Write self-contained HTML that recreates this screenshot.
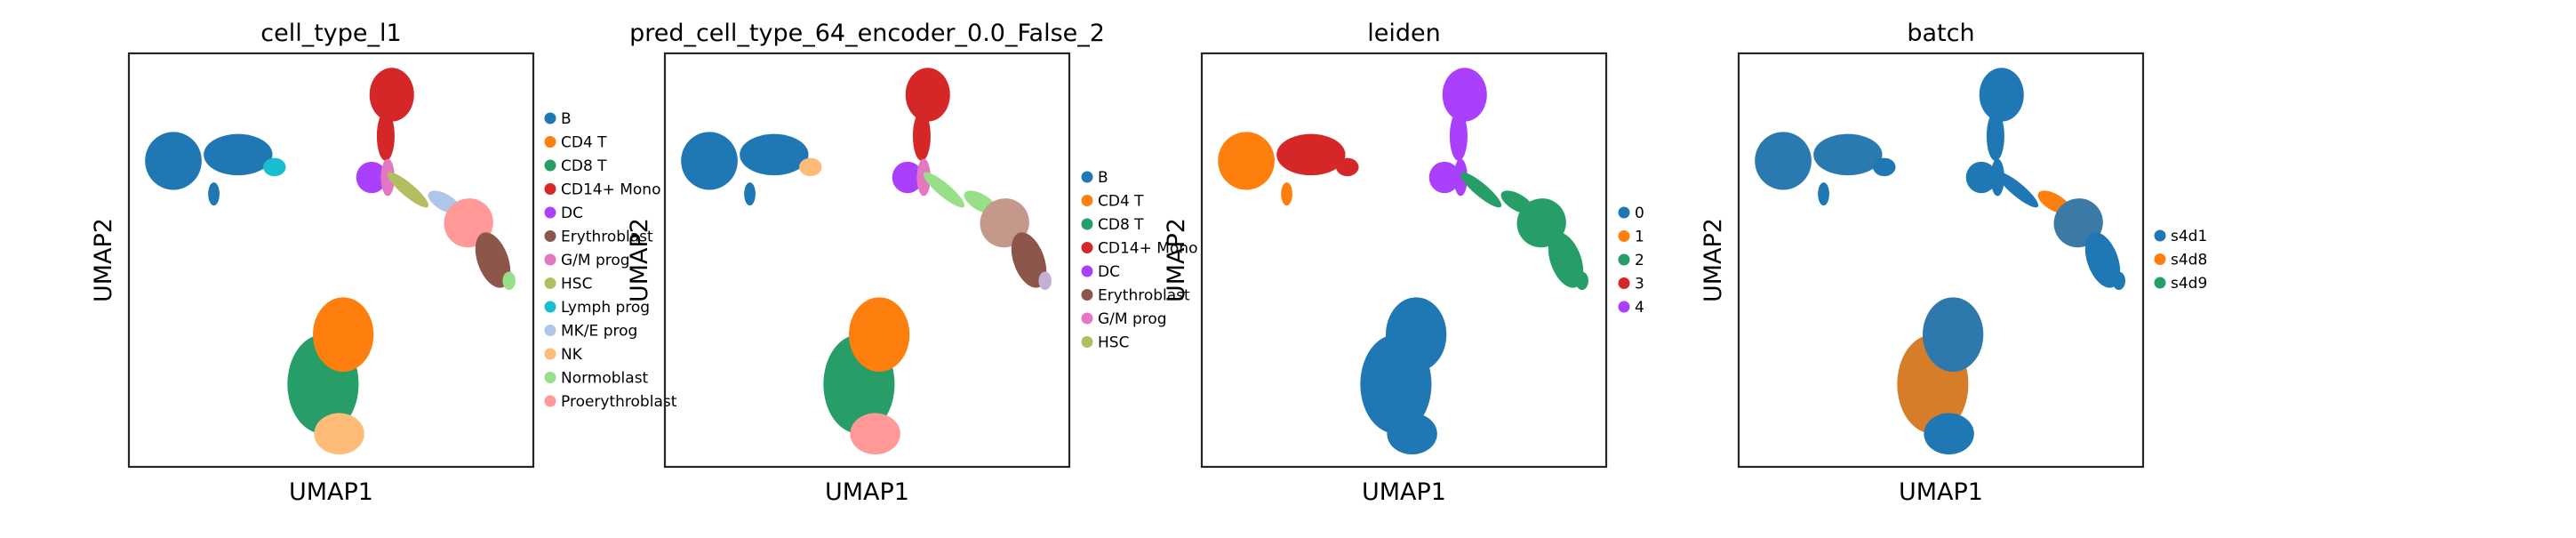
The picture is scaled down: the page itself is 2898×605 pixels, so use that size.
<!DOCTYPE html>
<html><head><meta charset="utf-8">
<style>
html,body{margin:0;padding:0;background:#fff;}
svg text{font-family:"DejaVu Sans","Liberation Sans",sans-serif;fill:#000;}
</style></head>
<body>
<svg id="chart" width="2898" height="600" viewBox="0 0 2898 600" xmlns="http://www.w3.org/2000/svg"></svg>
<script>
// Blob geometry in UMAP-fraction coordinates (x right, y down): cx, cy, rx, ry, angle
const blobCx = [0.11,0.27,0.36,0.21,0.65,0.635,0.60,0.64,0.69,0.78,0.84,0.90,0.94,0.48,0.53,0.52];
const blobCy = [0.26,0.245,0.275,0.34,0.10,0.20,0.30,0.30,0.33,0.36,0.41,0.50,0.55,0.80,0.68,0.92];
const blobRx = [0.07,0.085,0.028,0.014,0.055,0.022,0.038,0.017,0.065,0.045,0.06,0.038,0.016,0.088,0.075,0.062];
const blobRy = [0.07,0.05,0.022,0.028,0.065,0.06,0.038,0.045,0.016,0.02,0.06,0.07,0.022,0.12,0.09,0.05];
const blobAng = [0,0,0,0,0,0,0,0,40,30,50,-20,0,0,0,0];

const titles = ["cell_type_l1","pred_cell_type_64_encoder_0.0_False_2","leiden","batch"];
const panelLeft = [145,748,1352,1956];
const legendX = [619,1223,1827,2430];
const legendY0 = [133,199,239,265];

const legend1 = ["B","CD4 T","CD8 T","CD14+ Mono","DC","Erythroblast","G/M prog","HSC","Lymph prog","MK/E prog","NK","Normoblast","Proerythroblast"];
const legend2 = ["B","CD4 T","CD8 T","CD14+ Mono","DC","Erythroblast","G/M prog","HSC"];
const legend3 = ["0","1","2","3","4"];
const legend4 = ["s4d1","s4d8","s4d9"];
const legends = [legend1,legend2,legend3,legend4];

const C = {B:"#1f77b4",CD4:"#ff7f0e",CD8:"#279e68",Mono:"#d62728",DC:"#aa40fc",Ery:"#8c564b",GM:"#e377c2",HSC:"#b5bd61",Lym:"#17becf",MKE:"#aec7e8",NK:"#ffbb78",Nor:"#98df8a",Pro:"#ff9896",Tan:"#c4988a",Lav:"#c5b0d5"};
const legendColors1 = [C.B,C.CD4,C.CD8,C.Mono,C.DC,C.Ery,C.GM,C.HSC,C.Lym,C.MKE,C.NK,C.Nor,C.Pro];
const legendColors3 = ["#1f77b4","#ff7f0e","#279e68","#d62728","#aa40fc"];
const legendColors4 = ["#1f77b4","#ff7f0e","#279e68"];
const legendColors = [legendColors1,legendColors1.slice(0,8),legendColors3,legendColors4];

const blobColors = [
 [C.B,C.B,C.Lym,C.B,C.Mono,C.Mono,C.DC,C.GM,C.HSC,C.MKE,C.Pro,C.Ery,C.Nor,C.CD8,C.CD4,C.NK],
 [C.B,C.B,C.NK,C.B,C.Mono,C.Mono,C.DC,C.GM,C.Nor,C.Nor,C.Tan,C.Ery,C.Lav,C.CD8,C.CD4,C.Pro],
 ["#ff7f0e","#d62728","#d62728","#ff7f0e","#aa40fc","#aa40fc","#aa40fc","#aa40fc","#279e68","#279e68","#279e68","#279e68","#279e68","#1f77b4","#1f77b4","#1f77b4"],
 ["#2a79b0","#2a79b0","#1f77b4","#1f77b4","#1f77b4","#1f77b4","#1f77b4","#1f77b4","#1f77b4","#ff7f0e","#3a7aa5","#1f77b4","#1f77b4","#d67d2a","#2d78ad","#1f77b4"]
];

const svg = document.getElementById('chart');
const NS = "http://www.w3.org/2000/svg";
const boxTop = 60, boxW = 455, boxH = 465;
function mk(tag, attrs){const e=document.createElementNS(NS,tag);for(const k in attrs)e.setAttribute(k,attrs[k]);return e;}

for(let p=0;p<4;p++){
  const L = panelLeft[p];
  const sx = f => L + f*boxW;
  const sy = f => boxTop + f*boxH;
  const g = mk('g',{});
  
  
  svg.appendChild(g);
  for(let i=0;i<blobCx.length;i++){
    const cx=sx(blobCx[i]), cy=sy(blobCy[i]);
    const e = mk('ellipse',{cx:cx,cy:cy,rx:blobRx[i]*boxW,ry:blobRy[i]*boxH,fill:blobColors[p][i],transform:`rotate(${blobAng[i]} ${cx} ${cy})`});
    
    
    g.appendChild(e);
  }
  const r = mk('rect',{x:L,y:boxTop,width:boxW,height:boxH,fill:'none',stroke:'#262626','stroke-width':2.2});
  
  
  g.appendChild(r);
  const t = mk('text',{x:L+boxW/2,y:46,'text-anchor':'middle','font-size':27});
  t.textContent=titles[p];
  
  
  g.appendChild(t);
  const xl = mk('text',{x:L+boxW/2,y:562,'text-anchor':'middle','font-size':27});
  xl.textContent='UMAP1';
  
  
  g.appendChild(xl);
  const yl = mk('text',{x:0,y:0,'text-anchor':'middle','font-size':27,transform:`translate(${L-20},${boxTop+boxH/2}) rotate(-90)`});
  yl.textContent='UMAP2';
  
  
  g.appendChild(yl);
  const items=legends[p];
  for(let k=0;k<items.length;k++){
    const y=legendY0[p]+k*26.5;
    const lg=mk('g',{});
    
    
    const c=mk('circle',{cx:legendX[p],cy:y,r:6.5,fill:legendColors[p][k]});
    
    
    lg.appendChild(c);
    const tx=mk('text',{x:legendX[p]+12,y:y+6,'font-size':17});
    tx.textContent=items[k];
    
    
    lg.appendChild(tx);
    g.appendChild(lg);
  }
}
</script>
</body></html>
